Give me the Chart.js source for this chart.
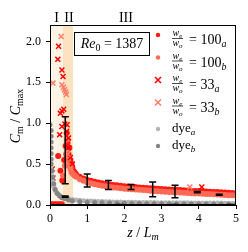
<!DOCTYPE html>
<html>
<head>
<meta charset="utf-8">
<script src="https://cdn.jsdelivr.net/npm/chart.js@4"></script>
<style>
  html, body { margin: 0; padding: 0; background: #fff; }
  canvas { display: block; }
</style>
</head>
<body>
<canvas id="chart" width="248" height="252"></canvas>
<script>
// ---- data ----
let xTicks = [0, 1, 2, 3, 4, 5];
let yTicks = [0, 0.5, 1.0, 1.5, 2.0];

// region limits (z / L_m) and their labels
let regionEdges = [0, 0.35, 0.62];
let regionNames = ['I', 'II', 'III'];
let regionNameZ = [0.18, 0.51, 2.04];

// w_e/w_o = 100, run a (red dots)
let a100Z = [0.02, 0.08, 0.14, 0.2, 0.26, 0.32, 0.22, 0.28, 0.33, 0.38, 0.42, 0.45, 0.47, 0.5, 0.52, 0.55, 0.58, 0.6, 0.63, 0.66,
    0.7, 0.8, 0.9, 1.0, 1.1, 1.2, 1.3, 1.4, 1.5, 1.6, 1.7, 1.8, 1.9, 2.0, 2.1, 2.2, 2.3, 2.4, 2.5, 2.6, 2.7, 2.8, 2.9, 3.0,
    3.1, 3.2, 3.3, 3.4, 3.5, 3.6, 3.7, 3.8, 3.9, 4.0, 4.1, 4.2, 4.3, 4.4, 4.5, 4.6, 4.7, 4.8, 4.9, 5.0];
let a100C = [0.01, 0.01, 0.01, 0.01, 0.01, 0.01, 0.6, 0.42, 0.3, 0.55, 0.72, 0.88, 0.76, 0.62, 0.7, 0.55, 0.5, 0.46, 0.42, 0.4,
    0.375, 0.345, 0.325, 0.305, 0.295, 0.285, 0.275, 0.265, 0.258, 0.251, 0.245, 0.24, 0.235, 0.23, 0.227, 0.223, 0.219, 0.215, 0.212, 0.209, 0.205, 0.201, 0.198, 0.195,
    0.192, 0.19, 0.187, 0.185, 0.182, 0.18, 0.177, 0.175, 0.172, 0.17, 0.167, 0.165, 0.163, 0.16, 0.158, 0.155, 0.153, 0.15, 0.148, 0.145];

// w_e/w_o = 100, run b (salmon dots)
let b100Z = [0.35, 0.4, 0.43, 0.46, 0.49, 0.52, 0.55, 0.58, 0.62, 0.66,
    0.7, 0.8, 0.9, 1.0, 1.1, 1.2, 1.3, 1.4, 1.5, 1.6, 1.7, 1.8, 1.9, 2.0, 2.1, 2.2, 2.3, 2.4, 2.5, 2.6, 2.7, 2.8, 2.9, 3.0,
    3.1, 3.2, 3.3, 3.4, 3.5, 3.6, 3.7, 3.8, 3.9, 4.0, 4.1, 4.2, 4.3, 4.4, 4.5, 4.6, 4.7, 4.8, 4.9, 5.0];
let b100C = [0.36, 0.48, 0.62, 0.8, 0.55, 0.48, 0.45, 0.4, 0.38, 0.36,
    0.345, 0.315, 0.295, 0.275, 0.265, 0.255, 0.245, 0.235, 0.228, 0.221, 0.215, 0.21, 0.205, 0.2, 0.197, 0.193, 0.189, 0.185, 0.182, 0.179, 0.175, 0.171, 0.168, 0.165,
    0.162, 0.16, 0.157, 0.155, 0.152, 0.15, 0.147, 0.145, 0.142, 0.14, 0.137, 0.135, 0.133, 0.13, 0.128, 0.125, 0.123, 0.12, 0.118, 0.115];

// w_e/w_o = 33, runs a and b (crosses)
let a33Z = [0.23, 0.21, 0.32, 0.35, 0.37, 0.32, 0.28, 0.32, 0.26, 0.46, 0.40, 0.45, 0.50, 0.50, 0.55, 0.60, 0.06, 0.08, 4.08];
let a33C = [1.94, 1.78, 1.65, 1.57, 1.17, 1.15, 1.12, 0.96, 0.86, 0.98, 0.99, 0.90, 0.82, 0.70, 0.58, 0.50, 0.44, 0.33, 0.22];
let b33Z = [0.30, 0.08, 0.32, 0.36, 0.39, 0.42, 0.44, 0.48, 0.55, 0.03, 3.76];
let b33C = [2.06, 1.49, 1.47, 1.44, 1.41, 1.38, 1.35, 0.62, 0.45, 0.23, 0.22];

// dye runs
let dyeAZ = [0.02, 0.03, 0.04, 0.06, 0.08, 0.1, 0.12, 0.15, 0.18, 0.22, 0.26, 0.3, 0.35, 0.4, 0.45, 0.5, 0.6, 0.7, 0.8, 0.9,
    1.0, 1.1, 1.2, 1.3, 1.4, 1.5, 1.6, 1.7, 1.8, 1.9, 2.0, 2.1, 2.2, 2.3, 2.4, 2.5, 2.6, 2.7, 2.8, 2.9, 3.0,
    3.1, 3.2, 3.3, 3.4, 3.5, 3.6, 3.7, 3.8, 3.9, 4.0, 4.1, 4.2, 4.3, 4.4, 4.5, 4.6, 4.7, 4.8, 4.9, 5.0];
let dyeAC = [0.46, 0.4, 0.36, 0.31, 0.26, 0.23, 0.2, 0.17, 0.15, 0.13, 0.115, 0.1, 0.09, 0.085, 0.08, 0.075, 0.068, 0.062, 0.057, 0.053,
    0.05, 0.048, 0.046, 0.044, 0.042, 0.04, 0.039, 0.038, 0.037, 0.036, 0.035, 0.034, 0.033, 0.033, 0.032, 0.031, 0.031, 0.03, 0.03, 0.029, 0.029,
    0.028, 0.028, 0.027, 0.027, 0.026, 0.026, 0.026, 0.025, 0.025, 0.025, 0.024, 0.024, 0.024, 0.023, 0.023, 0.023, 0.022, 0.022, 0.022, 0.022];
let dyeBZ = [0.0, 0.03, 0.03, 0.03, 0.03, 0.03, 0.03, 0.03, 0.05, 0.07, 0.1, 0.14, 0.2, 0.26, 0.32, 0.4, 0.5,
    0.6, 0.8, 1.0, 1.2, 1.4, 1.6, 1.8, 2.0, 2.2, 2.4, 2.6, 2.8, 3.0, 3.2, 3.4, 3.6, 3.8, 4.0, 4.2, 4.4, 4.6, 4.8, 5.0];
let dyeBC = [0.98, 0.91, 0.84, 0.77, 0.7, 0.63, 0.56, 0.5, 0.42, 0.34, 0.26, 0.19, 0.14, 0.11, 0.09, 0.075, 0.06,
    0.05, 0.04, 0.034, 0.03, 0.027, 0.024, 0.022, 0.02, 0.018, 0.017, 0.016, 0.015, 0.014, 0.013, 0.013, 0.012, 0.012, 0.011, 0.011, 0.01, 0.01, 0.01, 0.01];

// error bars: position, low, high
let errZ = [0.41, 1.0, 1.57, 2.18, 2.76, 3.36, 3.96, 4.55, 0.41, 1.88, 3.36, 4.84];
let errLow = [0.26, 0.22, 0.19, 0.19, 0.10, 0.09, 0.15, 0.12, 0.095, 0.0, 0.0, 0.0];
let errHigh = [1.08, 0.38, 0.30, 0.25, 0.28, 0.24, 0.165, 0.13, 0.11, 0.006, 0.006, 0.006];

let reynolds = '1387';

const SERIF = "'Liberation Serif', 'DejaVu Serif', serif";

function pts(zs, cs) {
    return zs.map((z, i) => ({ x: z, y: cs[i] }));
}

// draw a row of text pieces [text, font, dy]
function drawRuns(ctx, runs, x, y, align) {
    let w = 0;
    runs.forEach(r => { ctx.font = r[1]; w += ctx.measureText(r[0]).width; });
    let cx = align === 'center' ? x - w / 2 : (align === 'right' ? x - w : x);
    ctx.textAlign = 'left';
    ctx.textBaseline = 'alphabetic';
    runs.forEach(r => {
        ctx.font = r[1];
        ctx.fillText(r[0], cx, y + (r[2] || 0));
        cx += ctx.measureText(r[0]).width;
    });
    return w;
}

let decor = {
    id: 'decor',
    beforeDatasetsDraw(chart) {
        let c = chart.ctx, xs = chart.scales.x, a = chart.chartArea;
        let x0 = xs.getPixelForValue(regionEdges[0]);
        let x1 = xs.getPixelForValue(regionEdges[1]);
        let x2 = xs.getPixelForValue(regionEdges[2]);
        c.save();
        c.fillStyle = '#fef4e6';
        c.fillRect(x0, a.top, x1 - x0, a.bottom - a.top);
        c.fillStyle = '#fde2c2';
        c.fillRect(x1, a.top, x2 - x1, a.bottom - a.top);
        c.restore();
    },
    afterDatasetsDraw(chart) {
        let c = chart.ctx, xs = chart.scales.x, ys = chart.scales.y;
        c.save();
        c.strokeStyle = '#000';
        c.lineWidth = 1.5;
        errZ.forEach((z, i) => {
            let px = xs.getPixelForValue(z);
            let lo = ys.getPixelForValue(errLow[i]);
            let hi = ys.getPixelForValue(errHigh[i]);
            c.beginPath();
            c.moveTo(px, lo); c.lineTo(px, hi);
            c.moveTo(px - 3.5, lo); c.lineTo(px + 3.5, lo);
            c.moveTo(px - 3.5, hi); c.lineTo(px + 3.5, hi);
            c.stroke();
        });
        c.restore();
    },
    afterDraw(chart) {
        let c = chart.ctx, xs = chart.scales.x, a = chart.chartArea;
        c.save();
        c.strokeStyle = '#000';
        c.lineWidth = 1;
        c.strokeRect(a.left + 0.5, a.top + 0.5, a.right - a.left - 1, a.bottom - a.top - 1);
        c.fillStyle = '#000';

        // region labels above the frame
        regionNames.forEach((t, i) => {
            drawRuns(c, [[t, '14px ' + SERIF]], xs.getPixelForValue(regionNameZ[i]), 22, 'center');
        });

        // Re box
        c.fillStyle = '#fff';
        c.fillRect(74.5, 32.5, 75, 23);
        c.strokeRect(74.5, 32.5, 75, 23);
        c.fillStyle = '#000';
        drawRuns(c, [['Re', 'italic 14px ' + SERIF], ['0', '10px ' + SERIF, 3], [' = ' + reynolds, '14px ' + SERIF]], 112, 48, 'center');

        // legend
        let ds = chart.data.datasets;
        ds.forEach((d, i) => {
            let yc = d.legendY;
            let my = d.frac ? yc - 5 : yc;
            c.fillStyle = d.backgroundColor;
            c.strokeStyle = d.borderColor;
            if (d.pointStyle === 'crossRot') {
                c.lineWidth = 1.5;
                c.beginPath();
                c.moveTo(155, my - 3); c.lineTo(161, my + 3);
                c.moveTo(161, my - 3); c.lineTo(155, my + 3);
                c.stroke();
            } else {
                c.beginPath();
                c.arc(158, my, 2.2, 0, Math.PI * 2);
                c.fill();
            }
            c.fillStyle = '#000';
            c.strokeStyle = '#000';
            if (d.frac) {
                drawRuns(c, [['w', 'italic 10px ' + SERIF], ['e', 'italic 7px ' + SERIF, 2]], 177.5, yc - 4, 'center');
                c.lineWidth = 0.7;
                c.beginPath(); c.moveTo(172, yc - 1.5); c.lineTo(183, yc - 1.5); c.stroke();
                drawRuns(c, [['w', 'italic 10px ' + SERIF], ['o', 'italic 7px ' + SERIF, 2]], 177.5, yc + 6, 'center');
                drawRuns(c, [['= ' + d.frac, '14px ' + SERIF], [d.sub, 'italic 10px ' + SERIF, 3]], 189, yc + 4, 'left');
            } else {
                drawRuns(c, [['dye', '13px ' + SERIF], [d.sub, 'italic 9px ' + SERIF, 3]], 172, yc + 3, 'left');
            }
        });

        // axis titles
        c.fillStyle = '#000';
        drawRuns(c, [['z', 'italic 14px ' + SERIF], [' / ', '14px ' + SERIF], ['L', 'italic 14px ' + SERIF], ['m', 'italic 10px ' + SERIF, 3]], 143, 237, 'center');
        c.translate(20, 116);
        c.rotate(-Math.PI / 2);
        drawRuns(c, [['C', 'italic 14px ' + SERIF], ['m', '10px ' + SERIF, 3], [' / ', '14px ' + SERIF], ['C', 'italic 14px ' + SERIF], ['max', '10px ' + SERIF, 3]], 0, 0, 'center');
        c.restore();
    }
};

// order: larger numbers are drawn first, so later series sit on top
let datasets = [
    { label: '100a', frac: '100', sub: 'a', legendY: 40, data: pts(a100Z, a100C), order: 6,
      pointStyle: 'circle', pointRadius: 3, borderWidth: 0, backgroundColor: 'rgb(255,25,15)', borderColor: 'rgb(255,25,15)' },
    { label: '100b', frac: '100', sub: 'b', legendY: 62.5, data: pts(b100Z, b100C), order: 5,
      pointStyle: 'circle', pointRadius: 3, borderWidth: 0, backgroundColor: 'rgb(252,105,85)', borderColor: 'rgb(252,105,85)' },
    { label: '33a', frac: '33', sub: 'a', legendY: 85, data: pts(a33Z, a33C), order: 4,
      pointStyle: 'crossRot', pointRadius: 3.5, borderWidth: 1.5, backgroundColor: 'rgb(255,0,0)', borderColor: 'rgb(255,0,0)' },
    { label: '33b', frac: '33', sub: 'b', legendY: 107.5, data: pts(b33Z, b33C), order: 3,
      pointStyle: 'crossRot', pointRadius: 3.5, borderWidth: 1.5, backgroundColor: 'rgb(255,125,105)', borderColor: 'rgb(255,125,105)' },
    { label: 'dye a', sub: 'a', legendY: 129, data: pts(dyeAZ, dyeAC), order: 2,
      pointStyle: 'circle', pointRadius: 2.5, borderWidth: 0, backgroundColor: '#b4b4b4', borderColor: '#b4b4b4' },
    { label: 'dye b', sub: 'b', legendY: 146, data: pts(dyeBZ, dyeBC), order: 1,
      pointStyle: 'circle', pointRadius: 2.5, borderWidth: 0, backgroundColor: '#858585', borderColor: '#858585' }
];

let tickFont = { family: SERIF, size: 12 };

new Chart(document.getElementById('chart'), {
    type: 'scatter',
    data: { datasets: datasets },
    options: {
        responsive: false,
        animation: false,
        devicePixelRatio: 1,
        layout: { padding: { top: 25, right: 12, left: 0, bottom: 0 } },
        plugins: { legend: { display: false }, tooltip: { enabled: false } },
        scales: {
            x: {
                type: 'linear', min: 0, max: 5,
                afterFit(s) { s.height = 47; },
                afterBuildTicks(s) { s.ticks = xTicks.map(v => ({ value: v })); },
                ticks: { font: tickFont, color: '#000', padding: 3, maxRotation: 0, callback: v => String(v) },
                grid: { drawOnChartArea: false, tickLength: 4, color: '#000' },
                border: { color: '#000' }
            },
            y: {
                type: 'linear', min: 0, max: 2.2,
                afterFit(s) { s.width = 50; },
                afterBuildTicks(s) { s.ticks = yTicks.map(v => ({ value: v })); },
                ticks: { font: tickFont, color: '#000', padding: 5, callback: v => v.toFixed(1) },
                grid: { drawOnChartArea: false, tickLength: 4, color: '#000' },
                border: { color: '#000' }
            }
        }
    },
    plugins: [decor]
});
</script>
</body>
</html>
